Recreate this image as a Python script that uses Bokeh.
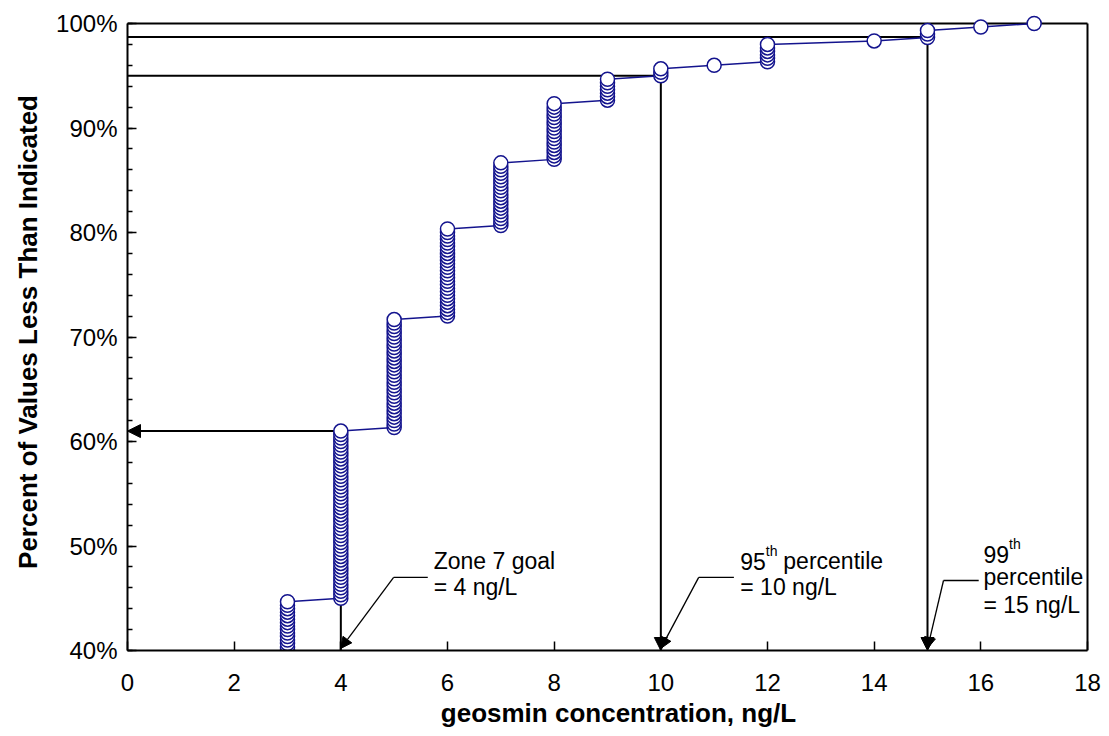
from bokeh.plotting import figure
from bokeh.models import (Range1d, SingleIntervalTicker, PrintfTickFormatter,
                          Arrow, NormalHead, Label)
from bokeh.embed import file_html
from bokeh.resources import INLINE

# Geosmin concentration (ng/L) and number of samples at each value
concentration = [3, 4, 5, 6, 7, 8, 9, 10, 11, 12, 14, 15, 16, 17]
sample_count = [16, 49, 32, 26, 19, 17, 7, 3, 1, 6, 1, 3, 1, 1]
samples_below = 118      # samples under 3 ng/L, below the plotted range
total_samples = 300

# Reference levels
goal_conc, goal_pct = 4, 61.0
p95_conc, p95_pct = 10, 95.0
p99_conc, p99_pct = 15, 98.7

# Axis extents
x_min, x_max = 0, 18
y_min, y_max = 40, 100

# Cumulative percent of values less than or equal to each sample
xs, ys = [], []
rank = samples_below
for c, k in zip(concentration, sample_count):
    for _ in range(k):
        rank += 1
        xs.append(c)
        ys.append(100.0 * rank / total_samples)

FONT = "Liberation Sans"
NAVY = "#14148e"

# The frame runs a little past the axes so markers on the top edge are not cut
p = figure(width=1109, height=736,
           x_range=Range1d(x_min, 18.4125), y_range=Range1d(y_min, 100.96),
           output_backend="svg", toolbar_location=None,
           min_border_left=127, min_border_right=0, min_border_top=13, min_border_bottom=86)
p.grid.visible = False
p.outline_line_color = None
p.background_fill_color = "white"
p.border_fill_color = "white"

for ax in (p.xaxis[0], p.yaxis[0]):
    ax.axis_line_width = 2
    ax.axis_line_color = "black"
    ax.major_tick_in = 9
    ax.major_tick_out = 0
    ax.major_tick_line_width = 1.5
    ax.minor_tick_in = 5
    ax.minor_tick_out = 0
    ax.minor_tick_line_width = 1.5
    ax.major_label_text_font = FONT
    ax.major_label_text_font_size = "24px"
    ax.major_label_text_color = "black"
    ax.axis_label_text_font = FONT
    ax.axis_label_text_font_style = "bold"
    ax.axis_label_text_color = "black"
    ax.axis_label_text_font_size = "26px"

p.xaxis.bounds = (x_min, x_max)
p.yaxis.bounds = (y_min, y_max)
p.xaxis.ticker = SingleIntervalTicker(interval=2, num_minor_ticks=0)
p.yaxis.ticker = SingleIntervalTicker(interval=10, num_minor_ticks=5)
p.yaxis.formatter = PrintfTickFormatter(format="%d%%")
p.xaxis.axis_label = "geosmin concentration, ng/L"
p.yaxis.axis_label = "Percent of Values Less Than Indicated"
p.xaxis.major_label_standoff = 23
p.xaxis.axis_label_standoff = 4
p.yaxis.major_label_standoff = 10
p.yaxis.axis_label_standoff = 10

# Top and right sides of the box
p.line([x_min, x_max], [y_max, y_max], line_color="black", line_width=2)
p.line([x_max, x_max], [y_min, y_max], line_color="black", line_width=2)


def head(size=13):
    return NormalHead(size=size, fill_color="black", line_color="black", line_width=1)


def ref_arrow(x0, y0, x1, y1, width=2, with_head=True, size=13):
    a = Arrow(x_start=x0, y_start=y0, x_end=x1, y_end=y1,
              line_color="black", line_width=width,
              end=head(size) if with_head else None, level="underlay")
    p.add_layout(a)


# Goal: horizontal to the percent axis, vertical down to the concentration axis
ref_arrow(goal_conc, goal_pct, x_min, goal_pct)
ref_arrow(goal_conc, goal_pct, goal_conc, y_min, with_head=False)
# 95th percentile
ref_arrow(x_min, p95_pct, p95_conc, p95_pct, with_head=False)
ref_arrow(p95_conc, p95_pct, p95_conc, y_min)
# 99th percentile
ref_arrow(x_min, p99_pct, p99_conc, p99_pct, with_head=False)
ref_arrow(p99_conc, p99_pct, p99_conc, y_min)

# Leader lines from the notes to the axis
leaders = [
    ([5.63, 4.99], [47.0, 47.0], goal_conc),
    ([11.37, 10.71], [47.0, 47.0], p95_conc),
    ([15.96, 15.30], [46.7, 46.7], p99_conc),
]
for lx, ly, target in leaders:
    p.line(lx, ly, line_color="black", line_width=1.3, level="underlay")
    ref_arrow(lx[1], ly[1], target, 40.2, width=1.3, size=11)

# Cumulative distribution
p.line(xs, ys, line_color=NAVY, line_width=1.5)
p.scatter(xs, ys, size=14, fill_color="white", line_color=NAVY, line_width=1.5)


def note(x, y, text, size="23px", dx=0, dy=0):
    p.add_layout(Label(x=x, y=y, text=text, x_offset=dx, y_offset=dy,
                       text_font=FONT, text_font_size=size, text_color="black",
                       text_baseline="alphabetic", text_align="left"))


note(5.74, 48.52, "Zone 7 goal")
note(5.74, 46.12, "= 4 ng/L")

note(11.49, 48.52, "95")
note(11.49, 48.52, "th", size="14px", dx=25.5, dy=10)
note(11.49, 48.52, "percentile", dx=43)
note(11.49, 46.12, "= 10 ng/L")

note(16.05, 49.19, "99")
note(16.05, 49.19, "th", size="14px", dx=25.5, dy=10)
note(16.05, 47.02, "percentile")
note(16.05, 44.37, "= 15 ng/L")

open("out.html", "w").write(file_html(p, INLINE))
